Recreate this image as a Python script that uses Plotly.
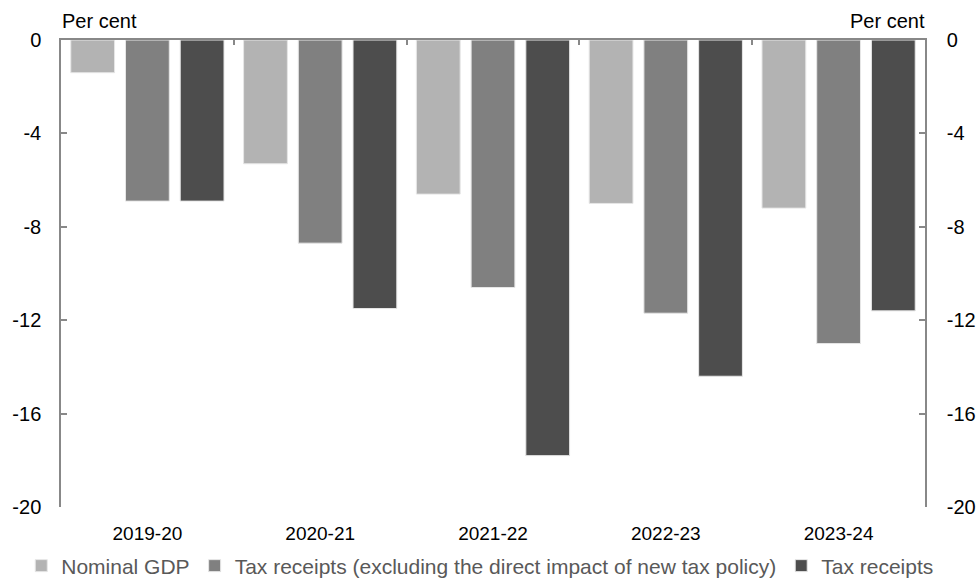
import plotly.graph_objects as go

categories = ["2019-20", "2020-21", "2021-22", "2022-23", "2023-24"]
nominal_gdp = [-1.4, -5.3, -6.6, -7.0, -7.2]
tax_excl_policy = [-6.9, -8.7, -10.6, -11.7, -13.0]
tax_receipts = [-6.9, -11.5, -17.8, -14.4, -11.6]
series_names = ["Nominal GDP",
                "Tax receipts (excluding the direct impact of new tax policy)",
                "Tax receipts"]
y_ticks = [0, -4, -8, -12, -16, -20]

colors = ["#b3b3b3", "#808080", "#4d4d4d"]
FONT = "Liberation Sans, Arial, sans-serif"

fig = go.Figure()
for name, vals, col in zip(series_names, [nominal_gdp, tax_excl_policy, tax_receipts], colors):
    fig.add_trace(go.Bar(x=categories, y=vals, name=name,
                         marker=dict(color=col, line=dict(color="#e6e6e6", width=1)),
                         hoverinfo="x+y"))

# helper invisible trace to host the secondary (top/right) axes
fig.add_trace(go.Scatter(x=[0], y=[0], xaxis="x2", yaxis="y2", mode="markers",
                         marker=dict(opacity=0), showlegend=False, hoverinfo="skip"))

axis_col = "#888888"
fig.update_layout(
    width=978, height=578,
    margin=dict(l=61, r=53, t=40, b=71, autoexpand=False),
    paper_bgcolor="white", plot_bgcolor="white",
    font=dict(family=FONT, size=19, color="black"),
    barmode="group", bargap=0.05, bargroupgap=0.2,
    xaxis=dict(type="category", showline=False, ticks="outside", ticklen=0,
               ticklabelstandoff=9, showgrid=False, zeroline=False,
               tickfont=dict(size=19), automargin=False),
    xaxis2=dict(overlaying="x", side="top", anchor="y", range=[-0.5, 4.5],
                showline=True, linecolor=axis_col, linewidth=1.5,
                ticks="inside", ticklen=5, tickcolor=axis_col, tickwidth=1.5,
                tickvals=[0.5, 1.5, 2.5, 3.5], showticklabels=False,
                showgrid=False, zeroline=False, automargin=False),
    yaxis=dict(range=[-20, 0], tickvals=y_ticks, ticktext=[str(v) for v in y_ticks],
               showline=True, linecolor=axis_col, linewidth=1.5,
               ticks="inside", ticklen=6, tickcolor=axis_col, tickwidth=1.5,
               ticklabelstandoff=14,
               showgrid=False, zeroline=False, tickfont=dict(size=20), automargin=False),
    yaxis2=dict(overlaying="y", side="right", anchor="x", range=[-20, 0],
                tickvals=y_ticks, ticktext=[str(v) for v in y_ticks],
                showline=True, linecolor=axis_col, linewidth=1.5,
                ticks="inside", ticklen=6, tickcolor=axis_col, tickwidth=1.5,
                ticklabelstandoff=16,
                showgrid=False, zeroline=False, tickfont=dict(size=20), automargin=False),
    legend=dict(orientation="h", xref="paper", yref="paper",
                x=-0.046, xanchor="left", y=-0.1263, yanchor="middle",
                font=dict(size=21, color="#595959"), itemwidth=30, traceorder="normal",
                itemclick=False, tracegroupgap=0, borderwidth=0),
    annotations=[
        dict(text="Per cent", xref="paper", yref="paper", x=-0.001, y=1.0407,
             xanchor="left", yanchor="middle", showarrow=False,
             font=dict(size=20)),
        dict(text="Per cent", xref="paper", yref="paper", x=1.0023, y=1.0407,
             xanchor="right", yanchor="middle", showarrow=False,
             font=dict(size=20)),
    ],
)

fig.write_html("out.html", config={"displayModeBar": False},
               post_script="document.body.style.margin='0';document.body.style.overflow='hidden';")
